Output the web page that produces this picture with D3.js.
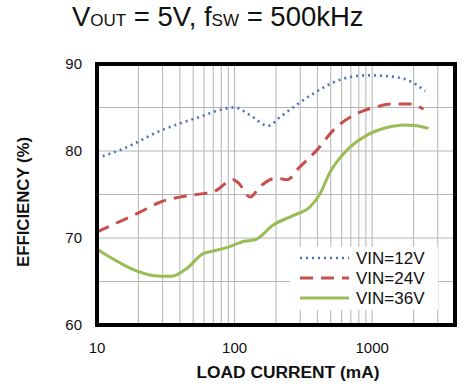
<!DOCTYPE html>
<html>
<head>
<meta charset="utf-8">
<script src="https://cdn.jsdelivr.net/npm/d3@7"></script>
<style>
  body { margin: 0; background: #fff; }
  text { font-family: "Liberation Sans", Arial, sans-serif; }
</style>
</head>
<body>
<div id="chart"></div>
<script>
// load current (mA) and efficiency (%)
var vin12I = [10, 14.7, 29.6, 53, 100, 130, 176, 214, 374, 585, 912, 1280, 1780, 2430];
var vin12E = [79.2, 80.1, 82.4, 83.8, 85.0, 84.1, 82.9, 83.9, 86.6, 88.2, 88.7, 88.6, 88.2, 86.9];

var vin24I = [10, 14.7, 19.5, 29.6, 40, 59, 70, 98, 107, 130, 153, 203, 240, 299, 396, 523, 731, 1023, 1430, 1890, 2360];
var vin24E = [70.7, 71.9, 72.8, 74.2, 74.7, 75.1, 75.3, 76.7, 76.3, 74.7, 75.9, 76.9, 76.7, 78.2, 80.1, 82.4, 84.1, 85.0, 85.4, 85.4, 84.8];

var vin36I = [10, 29.6, 34.9, 44.9, 59, 70, 87.7, 116, 141, 191, 268, 354, 418, 495, 655, 912, 1280, 1690, 2110, 2570];
var vin36E = [68.7, 65.6, 65.6, 66.5, 68.2, 68.5, 68.9, 69.6, 69.8, 71.5, 72.6, 73.6, 75.1, 77.6, 80.1, 81.8, 82.7, 83.0, 82.9, 82.6];

var seriesNames = ["VIN=12V", "VIN=24V", "VIN=36V"];
var xTicks = [10, 100, 1000];
var yTicks = [60, 70, 80, 90];

var width = 470, height = 387;
var plotL = 97, plotR = 455, plotT = 64, plotB = 325;

var svg = d3.select("#chart").append("svg")
  .attr("width", width)
  .attr("height", height);

var x = d3.scaleLog().domain([10, 4000]).range([plotL, plotR]);
var y = d3.scaleLinear().domain([60, 90]).range([plotB, plotT]);

// grid
var xGrid = [];
[10, 100, 1000].forEach(function(d) {
  for (var k = 1; k < 10; k++) if (d * k < 4000) xGrid.push(d * k);
});
svg.append("g").selectAll("line").data(xGrid).enter().append("line")
  .attr("x1", function(d) { return x(d); })
  .attr("x2", function(d) { return x(d); })
  .attr("y1", plotT).attr("y2", plotB)
  .attr("stroke", "#b4b4b4").attr("stroke-width", 1);
svg.append("g").selectAll("line").data(d3.range(65, 90, 5)).enter().append("line")
  .attr("x1", plotL).attr("x2", plotR)
  .attr("y1", function(d) { return y(d); })
  .attr("y2", function(d) { return y(d); })
  .attr("stroke", "#b4b4b4").attr("stroke-width", 1);

// legend background (covers grid)
svg.append("rect")
  .attr("x", 290).attr("y", 247).attr("width", 148).attr("height", 63)
  .attr("fill", "#fff");

var series = [
  { name: seriesNames[0], I: vin12I, E: vin12E, color: "#4f72b8", dash: "2,4", w: 2.6 },
  { name: seriesNames[1], I: vin24I, E: vin24E, color: "#c5504e", dash: "13,8", w: 3 },
  { name: seriesNames[2], I: vin36I, E: vin36E, color: "#98bd56", dash: null, w: 3 }
];

var line = d3.line()
  .x(function(d) { return x(d[0]); })
  .y(function(d) { return y(d[1]); })
  .curve(d3.curveMonotoneX);

series.forEach(function(s) {
  svg.append("path")
    .datum(d3.zip(s.I, s.E))
    .attr("d", line)
    .attr("fill", "none")
    .attr("stroke", s.color)
    .attr("stroke-width", s.w)
    .attr("stroke-dasharray", s.dash);
});

// legend
series.forEach(function(s, i) {
  var ly = 258 + i * 20;
  svg.append("line")
    .attr("x1", 300).attr("x2", 349)
    .attr("y1", ly).attr("y2", ly)
    .attr("stroke", s.color)
    .attr("stroke-width", s.w)
    .attr("stroke-dasharray", s.dash);
  svg.append("text")
    .attr("x", 356).attr("y", ly + 6)
    .attr("font-size", 17)
    .attr("fill", "#111")
    .text(s.name);
});

// frame
svg.append("rect")
  .attr("x", plotL).attr("y", plotT)
  .attr("width", plotR - plotL).attr("height", plotB - plotT)
  .attr("fill", "none").attr("stroke", "#000").attr("stroke-width", 4);

// axes labels
svg.append("g").selectAll("text").data(yTicks).enter().append("text")
  .attr("x", 82).attr("y", function(d) { return y(d) + 5; })
  .attr("text-anchor", "end").attr("font-size", 15).attr("fill", "#111")
  .text(function(d) { return d; });
svg.append("g").selectAll("text").data(xTicks).enter().append("text")
  .attr("x", function(d) { return x(d); }).attr("y", 353)
  .attr("text-anchor", "middle").attr("font-size", 15).attr("fill", "#111")
  .text(function(d) { return d; });

svg.append("text")
  .attr("x", 288).attr("y", 378)
  .attr("text-anchor", "middle")
  .attr("font-size", 16).attr("font-weight", "bold").attr("fill", "#111")
  .attr("textLength", 183).attr("lengthAdjust", "spacingAndGlyphs")
  .text("LOAD CURRENT  (mA)");

svg.append("text")
  .attr("transform", "translate(29,202) rotate(-90)")
  .attr("text-anchor", "middle")
  .attr("font-size", 16).attr("font-weight", "bold").attr("fill", "#111")
  .attr("textLength", 130).attr("lengthAdjust", "spacingAndGlyphs")
  .text("EFFICIENCY  (%)");

// title
var title = svg.append("text")
  .attr("x", 72).attr("y", 26)
  .attr("font-size", 27.5).attr("fill", "#111");
title.append("tspan").text("V");
title.append("tspan").attr("font-size", 17).text("OUT");
title.append("tspan").text(" = 5V, f");
title.append("tspan").attr("font-size", 17).text("SW");
title.append("tspan").text(" = 500kHz");
</script>
</body>
</html>
